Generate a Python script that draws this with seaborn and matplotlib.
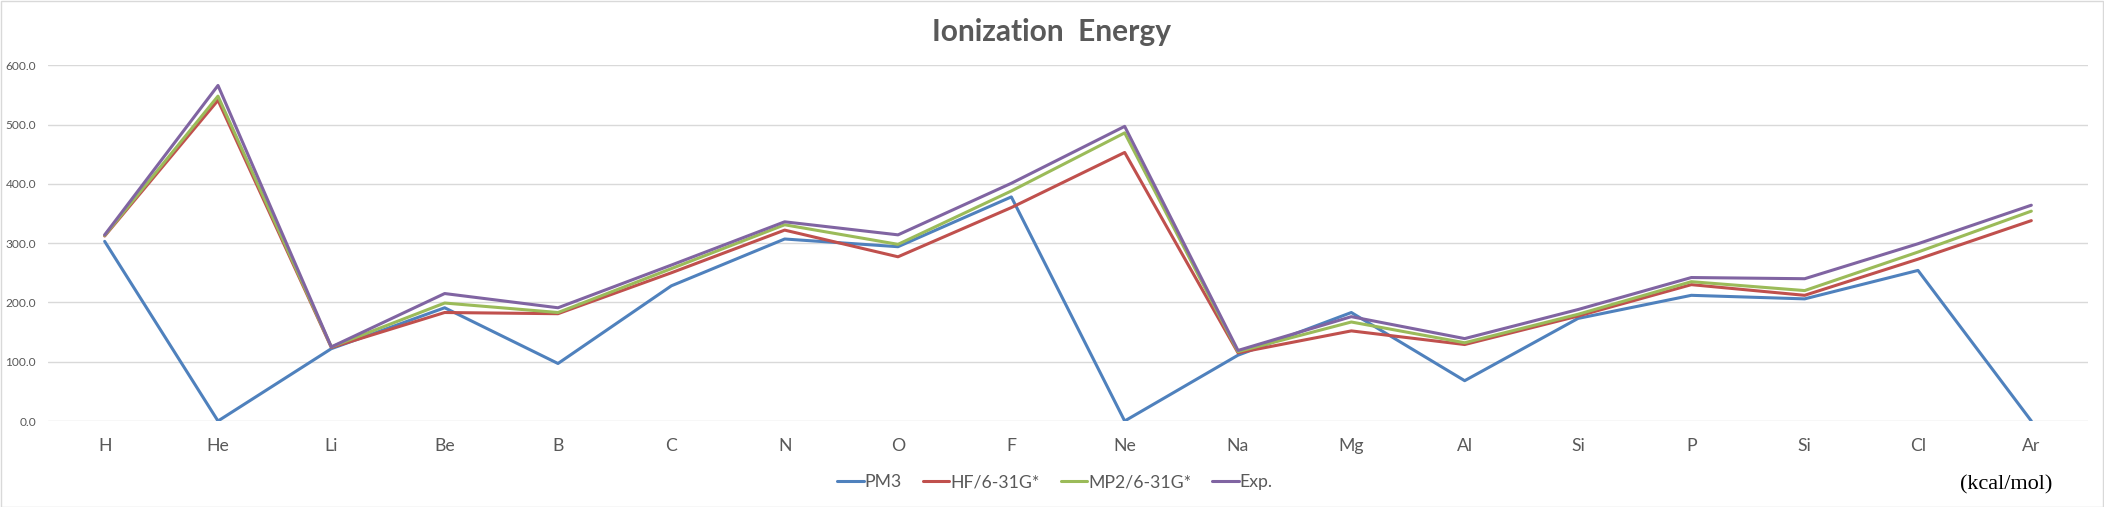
import numpy as np
import pandas as pd
import seaborn as sns
import matplotlib.pyplot as plt
from matplotlib.patches import Rectangle

# data (kcal/mol)
elements = ["H", "He", "Li", "Be", "B", "C", "N", "O", "F", "Ne",
            "Na", "Mg", "Al", "Si", "P", "Si", "Cl", "Ar"]
pm3 = [303, 0, 122, 191, 97, 228, 307, 294, 378, 0, 111, 183, 68, 173, 212, 206, 254, 0]
hf = [312, 541, 124, 183, 181, 250, 322, 277, 360, 453, 115, 152, 129, 177, 230, 212, 273, 338]
mp2 = [313, 548, 125, 199, 183, 257, 331, 298, 388, 486, 117, 167, 132, 180, 235, 220, 285, 354]
exp = [314, 566, 125, 215, 191, 263, 336, 314, 401, 497, 119, 176, 139, 188, 242, 240, 299, 364]
methods = ["PM3", "HF/6-31G*", "MP2/6-31G*", "Exp."]
colors = ["#4F81BD", "#C0504D", "#9BBB59", "#8064A2"]

rows = []
for name, vals in zip(methods, [pm3, hf, mp2, exp]):
    for i, v in enumerate(vals):
        rows.append({"pos": i, "value": v, "method": name})
df = pd.DataFrame(rows)

sns.set_theme(style="white")
plt.rcParams["font.family"] = ["Lato", "DejaVu Sans"]

W, H = 2104, 507
fig = plt.figure(figsize=(W / 100, H / 100), dpi=100)
ax = fig.add_axes([48 / W, 1 - 421 / H, 2040 / W, 355.7 / H])

sns.lineplot(data=df, x="pos", y="value", hue="method", hue_order=methods,
             palette=dict(zip(methods, colors)), linewidth=2.2, ax=ax,
             legend=False, sort=False)

ax.set_xlim(-0.5, len(elements) - 0.5)
ax.set_ylim(0, 600)
ax.set_yticks(np.arange(0, 601, 100))
ax.set_yticklabels([f"{v:.1f}" for v in range(0, 601, 100)])
ax.set_xticks(range(len(elements)))
ax.set_xticklabels(elements)
ax.tick_params(axis="y", labelsize=8.6, colors="#595959", length=0, pad=8.5)
ax.tick_params(axis="x", labelsize=12.7, colors="#595959", length=0, pad=12)
ax.set_xlabel("")
ax.set_ylabel("")
ax.grid(axis="y", color="#D9D9D9", linewidth=1)
ax.grid(axis="x", visible=False)
for s in ax.spines.values():
    s.set_visible(False)
ax.set_axisbelow(True)

fig.text(1051 / W, 1 - 32 / H, "Ionization  Energy", ha="center", va="center",
         fontsize=21.5, fontweight="bold", color="#595959")

handles = [plt.Line2D([], [], color=c, linewidth=2.2) for c in colors]
fig.legend(handles, methods, loc="center", bbox_to_anchor=(1055 / W, 1 - 482 / H),
           ncol=4, frameon=False, fontsize=12.7, handlelength=1.5,
           handletextpad=0.05, columnspacing=1.2, labelcolor="#595959")

fig.text(2006 / W, 1 - 485 / H, "(kcal/mol)", ha="center", va="center",
         fontsize=16, family=["Liberation Serif", "DejaVu Serif"], color="black")

fig.patches.append(Rectangle((0.5 / W, 0.5 / H), 1 - 1.5 / W, 1 - 1.5 / H,
                             transform=fig.transFigure, fill=False,
                             edgecolor="#D9D9D9", linewidth=1))

fig.savefig("out.png", dpi=100)
plt.close(fig)
